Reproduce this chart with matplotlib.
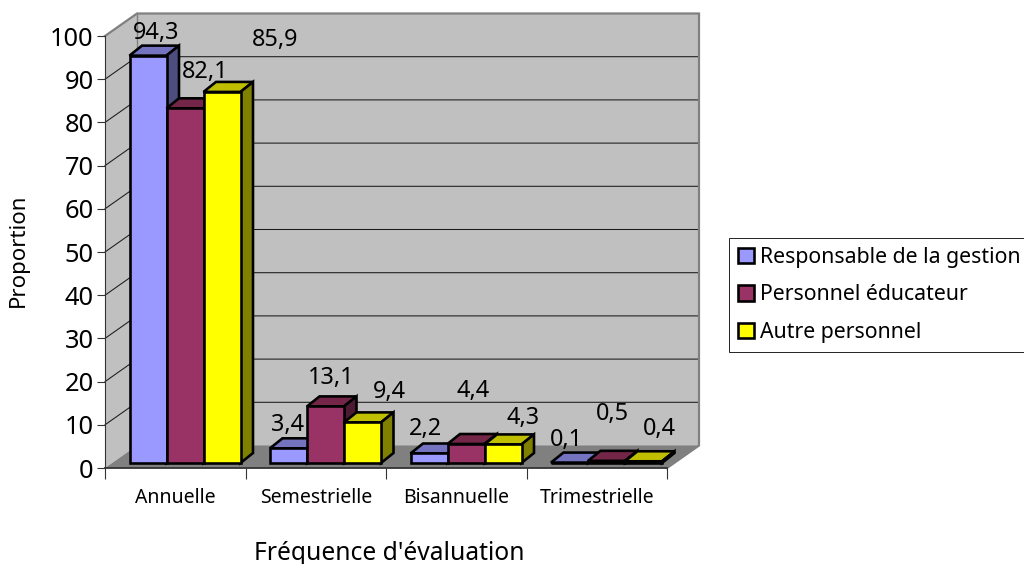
import matplotlib
matplotlib.use("Agg")
import matplotlib.pyplot as plt
from matplotlib.patches import Polygon, Patch

categories = ["Annuelle", "Semestrielle", "Bisannuelle", "Trimestrielle"]
responsable = [94.3, 3.4, 2.2, 0.1]
educateur = [82.1, 13.1, 4.4, 0.5]
autre = [85.9, 9.4, 4.3, 0.4]
series_names = ["Responsable de la gestion", "Personnel éducateur", "Autre personnel"]
yticks = list(range(0, 101, 10))

FONT = ["Noto Sans", "DejaVu Sans"]
plt.rcParams["font.family"] = FONT
W, H = 1024, 564
fig = plt.figure(figsize=(W / 100, H / 100), dpi=100)
L, R, T, B = 105, 667, 36, 468
ax = fig.add_axes([L / W, 1 - B / H, (R - L) / W, (B - T) / H])
ax.set_xlim(0, len(categories))
ax.set_ylim(0, 100)
ux = (R - L) / len(categories)      # px per category
uy = (B - T) / 100                  # px per value unit
px = lambda v: v / ux
py = lambda v: v / uy

WX, WY = px(32), py(22.5)           # depth of the whole box
OX, OY = px(9.75), py(5)            # front face offset of bars
DX, DY = px(12.5), py(10)           # depth of a bar
BW = px(37)

PX = 72 / 100
wall = "#C0C0C0"
nc = len(categories)
kw = dict(clip_on=False)
# walls and floor
ax.add_patch(Polygon([(0, 0), (0, 100), (WX, 100 + WY), (WX, WY)], fc=wall, ec="none", zorder=1, **kw))
ax.add_patch(Polygon([(WX, WY), (WX, 100 + WY), (nc + WX, 100 + WY), (nc + WX, WY)], fc=wall, ec="none", zorder=1, **kw))
ax.add_patch(Polygon([(0, 0), (WX, WY), (nc + WX, WY), (nc, 0)], fc="#808080", ec="none", zorder=1.5, **kw))
for v in yticks[1:-1]:
    ax.plot([0, WX, nc + WX], [v, v + WY, v + WY], color="#1a1a1a", lw=0.75, zorder=1.2, **kw)
ax.plot([0, WX, nc + WX, nc + WX, nc], [100, 100 + WY, 100 + WY, WY, 0], color="#808080", lw=1.6, zorder=1.3, solid_joinstyle="miter", **kw)
ax.plot([WX, WX], [WY, 100 + WY], color="#808080", lw=1.0, zorder=1.3, **kw)
ax.plot([0, nc], [0, 0], color="#333333", lw=1.3, zorder=1.6, **kw)

series = [responsable, educateur, autre]
front = ["#9999FF", "#993366", "#FFFF00"]
top = ["#7373BF", "#732648", "#BFBF00"]
side = ["#4D4D80", "#4D1A33", "#808000"]
elw = 2.6 * PX
z = 2.0
for c in range(nc):
    for s, vals in enumerate(series):
        v = vals[c]
        x0 = c + 0.5 + OX + (s - 1.5) * BW
        y0 = OY
        e = dict(ec="black", lw=elw, joinstyle="miter", **kw)
        ax.bar(x0, v, BW, bottom=y0, align="edge", color=front[s], edgecolor="black", linewidth=elw, zorder=z + 0.2, clip_on=False)
        ax.add_patch(Polygon([(x0, y0 + v), (x0 + DX, y0 + v + DY), (x0 + BW + DX, y0 + v + DY), (x0 + BW, y0 + v)], fc=top[s], zorder=z + 0.1, **e))
        ax.add_patch(Polygon([(x0 + BW, y0), (x0 + BW + DX, y0 + DY), (x0 + BW + DX, y0 + v + DY), (x0 + BW, y0 + v)], fc=side[s], zorder=z + 0.1, **e))
        z += 0.3

# data-label offsets (px, relative to the top centre of each bar front)
label_offsets = [
    [(8, -23), (20, -36), (53, -52)],
    [(-1, -23), (6, -28), (27, -30)],
    [(-3, -24), (7, -53), (20, -26)],
    [(-3, -23), (6, -47), (16, -32)],
]
for c in range(nc):
    for s, vals in enumerate(series):
        v = vals[c]
        xc = c + 0.5 + OX + (s - 1) * BW
        dx, dy = label_offsets[c][s]
        ax.annotate(f"{v:.1f}".replace(".", ","), (xc, OY + v), xytext=(dx * PX, -dy * PX),
                    textcoords="offset points", ha="center", va="center", fontsize=16.9, color="black",
                    zorder=50, annotation_clip=False)

for sp in ["top", "right"]:
    ax.spines[sp].set_visible(False)
ax.spines["left"].set_color("#333333")
ax.spines["bottom"].set_visible(False)
ax.spines["left"].set_linewidth(0.8)
ax.patch.set_visible(False)
ax.set_yticks(yticks)
ax.set_yticklabels([str(v) for v in yticks], fontsize=18.3)
ax.tick_params(axis="y", length=8 * PX, width=0.8, pad=2.5, color="#333333")
ax.set_xticks(range(nc + 1))
ax.set_xticklabels([""] * (nc + 1))
ax.tick_params(axis="x", length=11 * PX, width=0.8, color="#333333")
for i, name in enumerate(categories):
    ax.text(i + 0.5, -7.0, name, ha="center", va="center", fontsize=14)
fig.text(389 / W, 1 - 553 / H, "Fréquence d'évaluation", ha="center", va="center", fontsize=17.7)
fig.text(18 / W, 1 - 250 / H, "Proportion", ha="center", va="center", rotation=90, fontsize=16)

handles = [Patch(fc=f, ec="black", lw=2.6 * PX) for f in front]
leg = fig.legend(handles, series_names, loc="upper left", bbox_to_anchor=(729 / W, 1 - 238 / H),
                 frameon=True, fancybox=False, edgecolor="#222222", framealpha=1, fontsize=15.3,
                 handlelength=0.75, handleheight=0.75, handletextpad=0.3, labelspacing=0.78,
                 borderpad=0.42, borderaxespad=0)
leg.get_frame().set_linewidth(0.7)
fig.savefig("out.png", dpi=100)
